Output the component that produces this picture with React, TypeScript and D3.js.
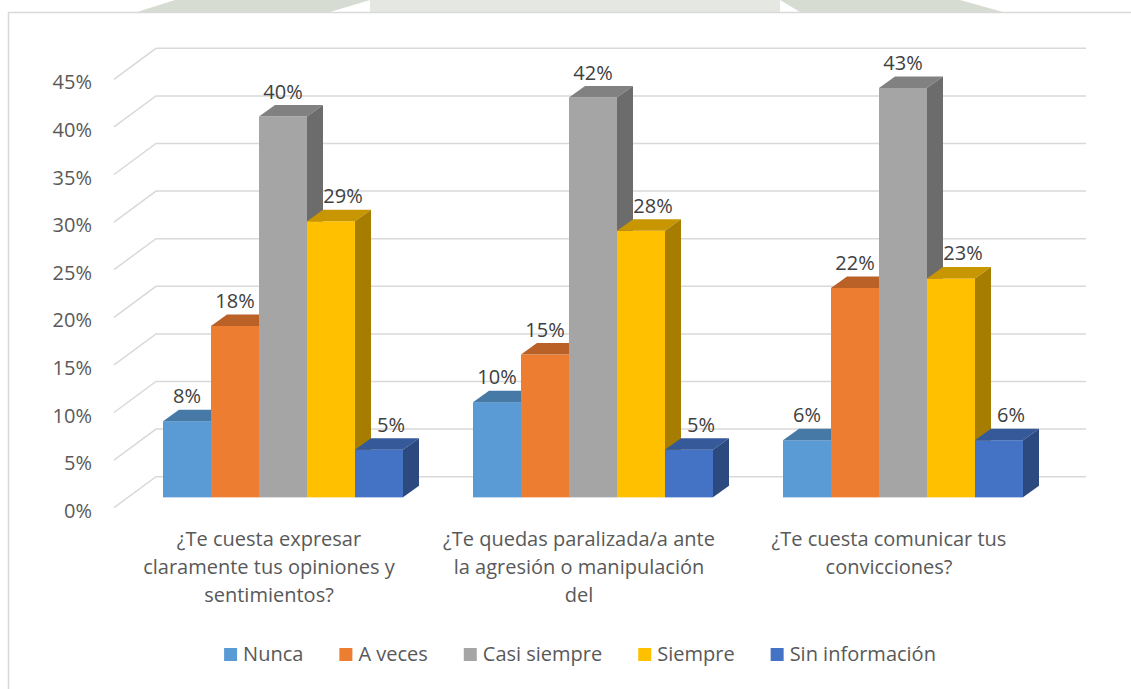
import React, { useEffect, useRef } from 'react'
import * as d3 from 'd3'

// category tick labels, already wrapped like the original
const categoryLines = [
  ['¿Te cuesta expresar', 'claramente tus opiniones y', 'sentimientos?'],
  ['¿Te quedas paralizada/a ante', 'la agresión o manipulación', 'del'],
  ['¿Te cuesta comunicar tus', 'convicciones?'],
]

const seriesNames = ['Nunca', 'A veces', 'Casi siempre', 'Siempre', 'Sin información']
const seriesColors = ['#5B9BD5', '#ED7D31', '#A5A5A5', '#FFC000', '#4472C4']

// percentages per category
const nunca = [8, 10, 6]
const aVeces = [18, 15, 22]
const casiSiempre = [40, 42, 43]
const siempre = [29, 28, 23]
const sinInformacion = [5, 5, 6]

const seriesValues = [nunca, aVeces, casiSiempre, siempre, sinInformacion]

const yTicks = [0, 5, 10, 15, 20, 25, 30, 35, 40, 45]

export default function App() {
  const ref = useRef<SVGSVGElement>(null)

  useEffect(() => {
    const width = 1131,
      height = 689
    const font = '"Open Sans", sans-serif'
    const svg = d3.select(ref.current)
    svg.selectAll('*').remove()

    // faint watermark above the chart frame
    const wm = svg.append('g')
    wm.append('polygon').attr('points', '137,12 175,0 370,0 330,12').attr('fill', '#d6dcd2')
    wm.append('polygon').attr('points', '370,0 780,0 780,12 370,12').attr('fill', '#e4e7e2')
    wm.append('polygon').attr('points', '780,0 960,0 1003,12 800,12').attr('fill', '#d6dcd2')

    // chart frame
    svg.append('rect')
      .attr('x', 8.5).attr('y', 12.5)
      .attr('width', width).attr('height', height)
      .attr('fill', '#fff')
      .attr('stroke', '#d9d9d9')
      .attr('stroke-width', 1.5)

    const depth = { x: 42, y: -31 } // front plane -> back wall
    const barDepth = { x: 16, y: -11.5 }
    const groupWidth = 240

    const x0 = d3.scaleBand<number>()
      .domain(categoryLines.map((_, i) => i))
      .range([114, 1044])
    const x1 = d3.scaleBand<string>()
      .domain(seriesNames)
      .range([0, groupWidth])
    const y = d3.scaleLinear().domain([0, 45]).range([507.7, 79.3])

    // gridlines: back wall + side wall
    const grid = svg.append('g')
      .attr('stroke', '#d9d9d9')
      .attr('stroke-width', 1.5)
      .attr('fill', 'none')
    yTicks.forEach(t => {
      const [a, b] = x0.range()
      grid.append('polyline')
        .attr('points', `${a},${y(t)} ${a + depth.x},${y(t) + depth.y} ${b + depth.x},${y(t) + depth.y}`)
    })

    // y axis labels
    svg.append('g')
      .selectAll('text')
      .data(yTicks)
      .enter()
      .append('text')
      .attr('x', 92)
      .attr('y', d => y(d) + 10)
      .attr('text-anchor', 'end')
      .attr('font-family', font)
      .attr('font-size', 20)
      .attr('fill', '#595959')
      .text(d => d + '%')

    // bars
    const bars = svg.append('g')
    const labels: { x: number; y: number; text: string }[] = []
    categoryLines.forEach((_, i) => {
      const gx = (x0(i) as number) + (x0.bandwidth() - groupWidth) / 2 + depth.x / 3
      const base = y(0) + depth.y / 3
      seriesNames.forEach((name, j) => {
        const v = seriesValues[j][i]
        const w = x1.bandwidth()
        const bx = gx + (x1(name) as number)
        const top = y(v) + depth.y / 3
        const c = d3.color(seriesColors[j])!
        bars.append('rect')
          .attr('x', bx).attr('y', top)
          .attr('width', w).attr('height', base - top)
          .attr('fill', seriesColors[j])
        bars.append('polygon')
          .attr('points', [
            [bx, top], [bx + w, top],
            [bx + w + barDepth.x, top + barDepth.y], [bx + barDepth.x, top + barDepth.y],
          ].join(' '))
          .attr('fill', c.darker(0.7).toString())
        bars.append('polygon')
          .attr('points', [
            [bx + w, top], [bx + w + barDepth.x, top + barDepth.y],
            [bx + w + barDepth.x, base + barDepth.y], [bx + w, base],
          ].join(' '))
          .attr('fill', c.darker(1.2).toString())

        // push the label right when the bar on its left is taller
        const prev = j > 0 ? seriesValues[j - 1][i] : -1
        const shift = prev > v ? 12 : 0
        labels.push({ x: bx + w / 2 + shift, y: top + barDepth.y - 6.5, text: v + '%' })
      })
    })

    svg.append('g')
      .selectAll('text')
      .data(labels)
      .enter()
      .append('text')
      .attr('x', d => d.x)
      .attr('y', d => d.y)
      .attr('text-anchor', 'middle')
      .attr('font-family', font)
      .attr('font-size', 20)
      .attr('fill', '#404040')
      .text(d => d.text)

    // category labels
    const cats = svg.append('g')
    categoryLines.forEach((lines, i) => {
      const cx = (x0(i) as number) + x0.bandwidth() / 2
      lines.forEach((line, k) => {
        cats.append('text')
          .attr('x', cx)
          .attr('y', y(0) + 38 + k * 28)
          .attr('text-anchor', 'middle')
          .attr('font-family', font)
          .attr('font-size', 20)
          .attr('fill', '#595959')
          .text(line)
      })
    })

    // legend
    const legend = svg.append('g')
    const items = seriesNames.map((name, j) => {
      const g = legend.append('g')
      g.append('rect')
        .attr('x', 0).attr('y', -13)
        .attr('width', 13).attr('height', 13)
        .attr('fill', seriesColors[j])
      const t = g.append('text')
        .attr('x', 19)
        .attr('y', 0)
        .attr('font-family', font)
        .attr('font-size', 20)
        .attr('fill', '#595959')
        .text(name)
      const len = (t.node() as SVGTextElement).getComputedTextLength()
      return { g, w: 19 + len }
    })
    const gap = 36
    const total = d3.sum(items, d => d.w) + gap * (items.length - 1)
    let lx = 580 - total / 2
    items.forEach(it => {
      it.g.attr('transform', `translate(${lx}, 661)`)
      lx += it.w + gap
    })
  }, [])

  return (
    <svg
      ref={ref}
      width={1131}
      height={689}
      style={{ position: 'absolute', left: 0, top: 0, background: '#fff' }}
    />
  )
}
